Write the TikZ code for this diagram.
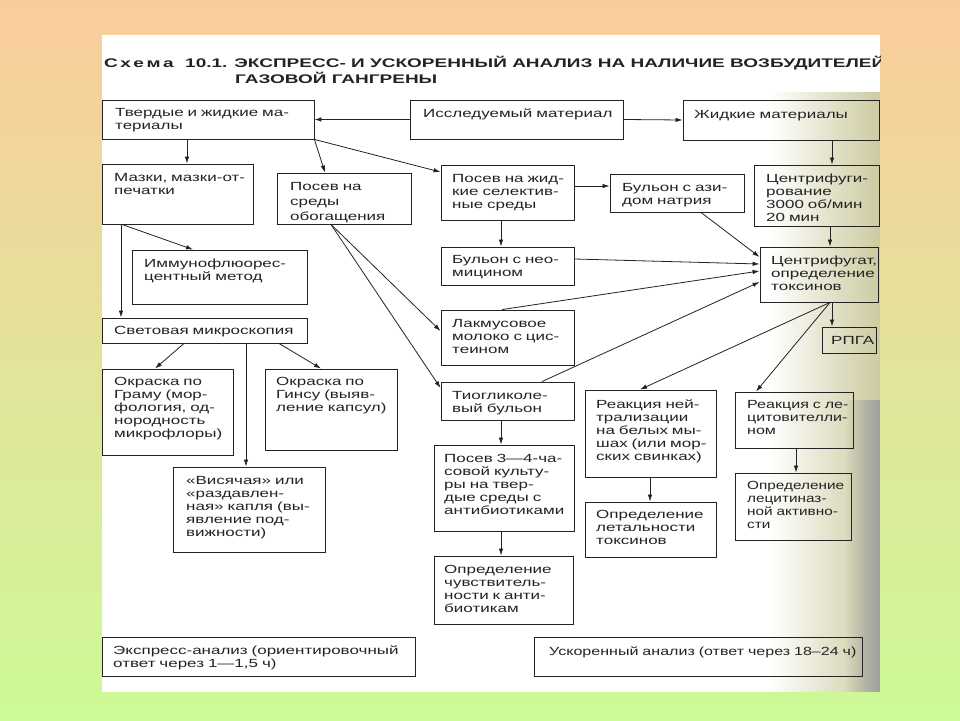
\documentclass[tikz,border=0pt]{standalone}
\usepackage{fontspec}
\setmainfont{Liberation Sans}
\newfontfamily\bodyf[FakeStretch=1.44, WordSpace=0.8]{Liberation Sans}
\newfontfamily\bodyn[FakeStretch=1.36, WordSpace=0.8]{Liberation Sans}
\newfontfamily\bodynn[FakeStretch=1.3, WordSpace=0.8]{Liberation Sans}
\newfontfamily\titlef[FakeStretch=1.52]{Liberation Sans}
\usetikzlibrary{fit,arrows.meta,fadings}
\definecolor{ink}{RGB}{35,35,35}
\definecolor{bgtop}{RGB}{250,204,156}
\definecolor{bgbot}{RGB}{204,250,150}
\definecolor{scanA}{RGB}{205,203,160}
\tikzfading[name=scanfade, left color=transparent!100, right color=transparent!0]
\begin{document}
\begin{tikzpicture}[x=1pt,y=-1pt,
  bx/.style={draw=ink, line width=0.9pt, inner sep=0pt},
  tx/.style={anchor=base west, inner sep=0pt, align=left, text width=420pt,
    font=\bodyf\fontsize{11.8}{13}\selectfont, text=ink},
  txw/.style={tx, font=\bodyf\fontsize{11.8}{15}\selectfont},
  txn/.style={tx, font=\bodyn\fontsize{11.8}{13}\selectfont},
  txnn/.style={tx, font=\bodynn\fontsize{11.8}{13}\selectfont},
  ttl/.style={anchor=base west, inner sep=0pt, text=ink,
    font=\titlef\bfseries\fontsize{12.5}{14}\selectfont},
  arr/.style={draw=ink, line width=0.8pt, -{Latex[length=7pt,width=4.5pt]}},
]
\useasboundingbox (0,0) rectangle (960,720);
% background
\shade[top color=bgtop, bottom color=bgbot] (0,0) rectangle (960,720);
\fill[white] (102,35) rectangle (880,692);
\fill[scanA, path fading=scanfade] (770,92) rectangle (880,692);
\fill[gray!75, path fading=scanfade] (845,400) rectangle (880,692);

% title
\begin{scope}
\clip (102,35) rectangle (880,692);
\node[ttl] (h0) at (104,67) {С\hspace{2.5pt}х\hspace{2.5pt}е\hspace{2.5pt}м\hspace{2.5pt}а};
\node[ttl] (h1) at (185,67) {10.1. ЭКСПРЕСС- И УСКОРЕННЫЙ АНАЛИЗ НА НАЛИЧИЕ ВОЗБУДИТЕЛЕЙ};
\node[ttl] (h2) at (235,83) {ГАЗОВОЙ ГАНГРЕНЫ};
\end{scope}

% boxes
\node[bx, fit={(102,100)(314,139)}] (tv) {};
\node[bx, fit={(410,100)(623,139)}] (iss) {};
\node[bx, fit={(683,100)(879,140)}] (zh) {};
\node[bx, fit={(102,164)(253,224)}] (mz) {};
\node[bx, fit={(277,173)(411,224)}] (pso) {};
\node[bx, fit={(441,165)(574,220)}] (psj) {};
\node[bx, fit={(610,174)(744,212)}] (baz) {};
\node[bx, fit={(754,165)(879,226)}] (cf) {};
\node[bx, fit={(132,250)(307,304)}] (imm) {};
\node[bx, fit={(441,247)(574,285)}] (bne) {};
\node[bx, fit={(760,247)(878,302)}] (cfg) {};
\node[bx, fit={(102,318)(307,343)}] (svm) {};
\node[bx, fit={(441,310)(574,365)}] (lak) {};
\node[bx, fit={(822,327)(876,353)}] (rpga) {};
\node[bx, fit={(102,369)(233,455)}] (gram) {};
\node[bx, fit={(265,369)(397,450)}] (gins) {};
\node[bx, fit={(441,382)(574,420)}] (tio) {};
\node[bx, fit={(585,390)(716,477)}] (rn) {};
\node[bx, fit={(735,392)(853,448)}] (rl) {};
\node[bx, fit={(173,467)(325,552)}] (vis) {};
\node[bx, fit={(434,445)(574,531)}] (p34) {};
\node[bx, fit={(585,502)(716,557)}] (ol) {};
\node[bx, fit={(735,473)(851,540)}] (olec) {};
\node[bx, fit={(434,556)(573,624)}] (och) {};
\node[bx, fit={(102,637)(415,676)}] (exp) {};
\node[bx, fit={(534,637)(862,676)}] (usk) {};

% texts
\node[tx] (ttv) at (115,116.5) {Твердые и жидкие ма-\\териалы};
\node[tx] (tiss) at (423,117) {Исследуемый материал};
\node[tx] (tzh) at (694,118) {Жидкие материалы};
\node[tx] (tmz) at (114,181) {Мазки, мазки-от-\\печатки};
\node[txw] (tpso) at (290,190) {Посев на\\среды\\обогащения};
\node[tx] (tpsj) at (452,182) {Посев на жид-\\кие селектив-\\ные среды};
\node[tx] (tbaz) at (622,191) {Бульон с ази-\\дом натрия};
\node[tx] (tcf) at (766,182) {Центрифуги-\\рование\\3000 об/мин\\20 мин};
\node[tx] (timm) at (144,267) {Иммунофлюорес-\\центный метод};
\node[tx] (tbne) at (452,263) {Бульон с нео-\\мицином};
\node[tx] (tcfg) at (771,264) {Центрифугат,\\определение\\токсинов};
\node[tx] (tsvm) at (114,334) {Световая микроскопия};
\node[tx] (tlak) at (452,327) {Лакмусовое\\молоко с цис-\\теином};
\node[tx] (trpga) at (831,344) {РПГА};
\node[tx] (tgram) at (114,385) {Окраска по\\Граму (мор-\\фология, од-\\нородность\\микрофлоры)};
\node[tx] (tgins) at (276,385) {Окраска по\\Гинсу (выяв-\\ление капсул)};
\node[tx] (ttio) at (452,399) {Тиогликоле-\\вый бульон};
\node[tx] (trn) at (596,408) {Реакция ней-\\трализации\\на белых мы-\\шах (или мор-\\ских свинках)};
\node[txn] (trl) at (747,408) {Реакция с ле-\\цитовителли-\\ном};
\node[tx] (tvis) at (186,484) {«Висячая» или\\«раздавлен-\\ная» капля (вы-\\явление под-\\вижности)};
\node[tx] (tp34) at (444,462) {Посев 3—4-ча-\\совой культу-\\ры на твер-\\дые среды с\\антибиотиками};
\node[tx] (tol) at (596,518) {Определение\\летальности\\токсинов};
\node[txnn] (tolec) at (747,489) {Определение\\лецитиназ-\\ной активно-\\сти};
\node[tx] (toch) at (444,573) {Определение\\чувствитель-\\ности к анти-\\биотикам};
\node[tx] (texp) at (113,654) {Экспресс-анализ (ориентировочный\\ответ через 1—1,5 ч)};
\node[txn] (tusk) at (549,655) {Ускоренный анализ (ответ через 18–24 ч)};

% connectors
\draw[arr] (iss.west) -- (tv.east);
\draw[arr] (iss.east) -- (zh.west);
\draw[arr] (tv.south -| 187,0) -- (mz.north -| 187,0);
\draw[arr] (tv.south east) -- (pso.north -| 325,0);
\draw[arr] (tv.south east) -- (psj.west |- 0,172);
\draw[arr] (zh.south -| 832,0) -- (cf.north -| 832,0);
\draw[arr] (mz.south -| 122,0) -- (imm.north -| 193,0);
\draw[arr] (mz.south -| 121,0) -- (svm.north -| 121,0);
\draw[arr] (pso.south -| 331,0) -- (lak.west |- 0,331);
\draw[arr] (pso.south -| 331,0) -- (tio.west |- 0,388);
\draw[arr] (psj.east |- 0,186) -- (baz.west |- 0,186);
\draw[arr] (psj.south -| 501,0) -- (bne.north -| 501,0);
\draw[arr] (baz.south -| 701,0) -- (cfg.west |- 0,257);
\draw[arr] (cf.south -| 830,0) -- (cfg.north -| 830,0);
\draw[arr] (bne.east |- 0,259) -- (cfg.west |- 0,264);
\draw[arr] (lak.north -| 502,0) -- (cfg.west |- 0,271);
\draw[arr] (tio.north -| 542,0) -- (cfg.west |- 0,282);
\draw[arr] (cfg.south -| 832,0) -- (rpga.north -| 832,0);
\draw[arr] (cfg.south -| 830,0) -- (rn.north -| 640,0);
\draw[arr] (cfg.south -| 830,0) -- (rl.north -| 756,0);
\draw[arr] (svm.south -| 184,0) -- (gram.north -| 155,0);
\draw[arr] (svm.south -| 246,0) -- (vis.north -| 246,0);
\draw[arr] (svm.south -| 279,0) -- (gins.north -| 321,0);
\draw[arr] (tio.south -| 501,0) -- (p34.north -| 501,0);
\draw[arr] (p34.south -| 501,0) -- (och.north -| 501,0);
\draw[arr] (rn.south -| 650,0) -- (ol.north -| 650,0);
\draw[arr] (rl.south -| 796,0) -- (olec.north -| 796,0);
\end{tikzpicture}
\end{document}
